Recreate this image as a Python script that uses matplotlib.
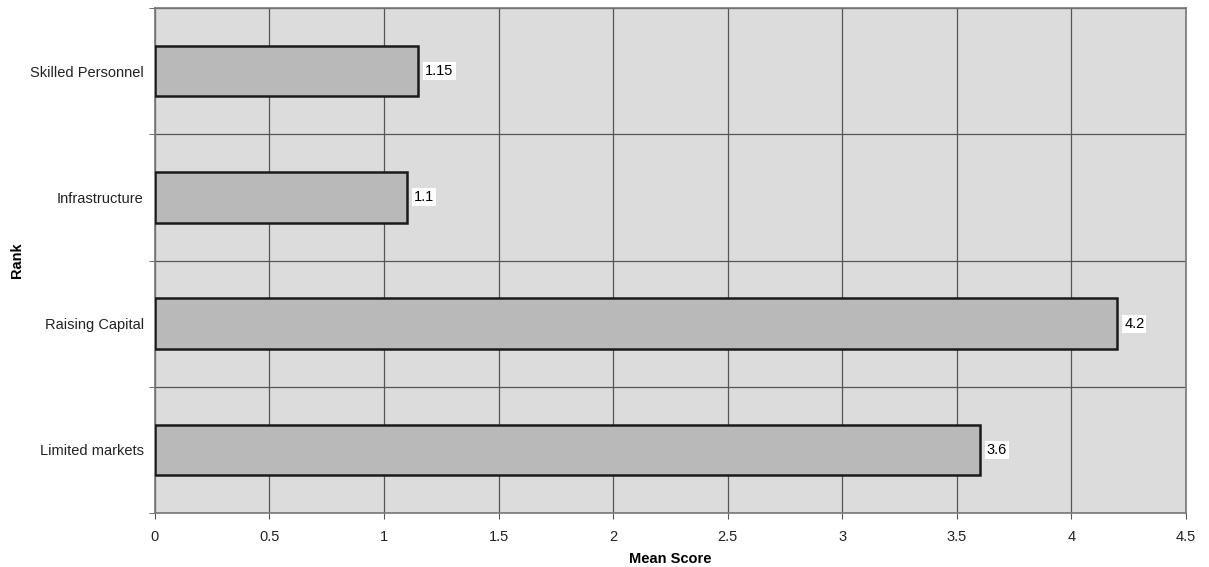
import matplotlib.pyplot as plt
import numpy as np

plt.rcParams['font.family'] = ['Liberation Sans', 'DejaVu Sans']

# data
categories = ['Skilled Personnel', 'Infrastructure', 'Raising Capital', 'Limited markets']
scores = [1.15, 1.1, 4.2, 3.6]
score_labels = ['1.15', '1.1', '4.2', '3.6']

fig = plt.figure(figsize=(12.09, 5.67), dpi=100)
ax = fig.add_axes([0.128, 0.095, 0.853, 0.891])
ax.set_facecolor('#dcdcdc')

ypos = np.arange(len(categories))
ax.barh(ypos, scores, height=0.4, color='#b9b9b9', edgecolor='#1a1a1a', linewidth=1.8, zorder=3)

for y, v, lab in zip(ypos, scores, score_labels):
    ax.text(v + 0.03, y, lab, va='center', ha='left', fontsize=10.5, zorder=4,
            bbox=dict(facecolor='white', edgecolor='none', pad=1.5))

ax.set_xlim(0, 4.5)
ax.set_ylim(len(categories) - 0.5, -0.5)
ax.set_xticks(np.arange(0, 4.51, 0.5))
ax.set_xticklabels(['0', '0.5', '1', '1.5', '2', '2.5', '3', '3.5', '4', '4.5'], fontsize=10.5, color='#222222')
ax.set_yticks(ypos)
ax.set_yticklabels(categories, fontsize=10.5, color='#222222')
ax.set_yticks(np.arange(-0.5, len(categories), 1.0), minor=True)
ax.tick_params(axis='y', which='major', length=0, pad=8)
ax.tick_params(axis='y', which='minor', length=4, color='#555555')
ax.tick_params(axis='x', length=4, color='#555555', pad=8)

ax.grid(axis='x', which='major', color='#555555', linewidth=0.9, zorder=1)
ax.grid(axis='y', which='minor', color='#555555', linewidth=0.9, zorder=1)
ax.set_axisbelow(True)

for s in ax.spines.values():
    s.set_color('#777777')
    s.set_linewidth(1.2)
    s.set_linestyle((0, (1, 1)))

ax.set_xlabel('Mean Score', fontsize=10.5, fontweight='bold', labelpad=6)
ax.set_ylabel('Rank', fontsize=10.5, fontweight='bold', labelpad=4)

fig.savefig('out.png', dpi=100)
